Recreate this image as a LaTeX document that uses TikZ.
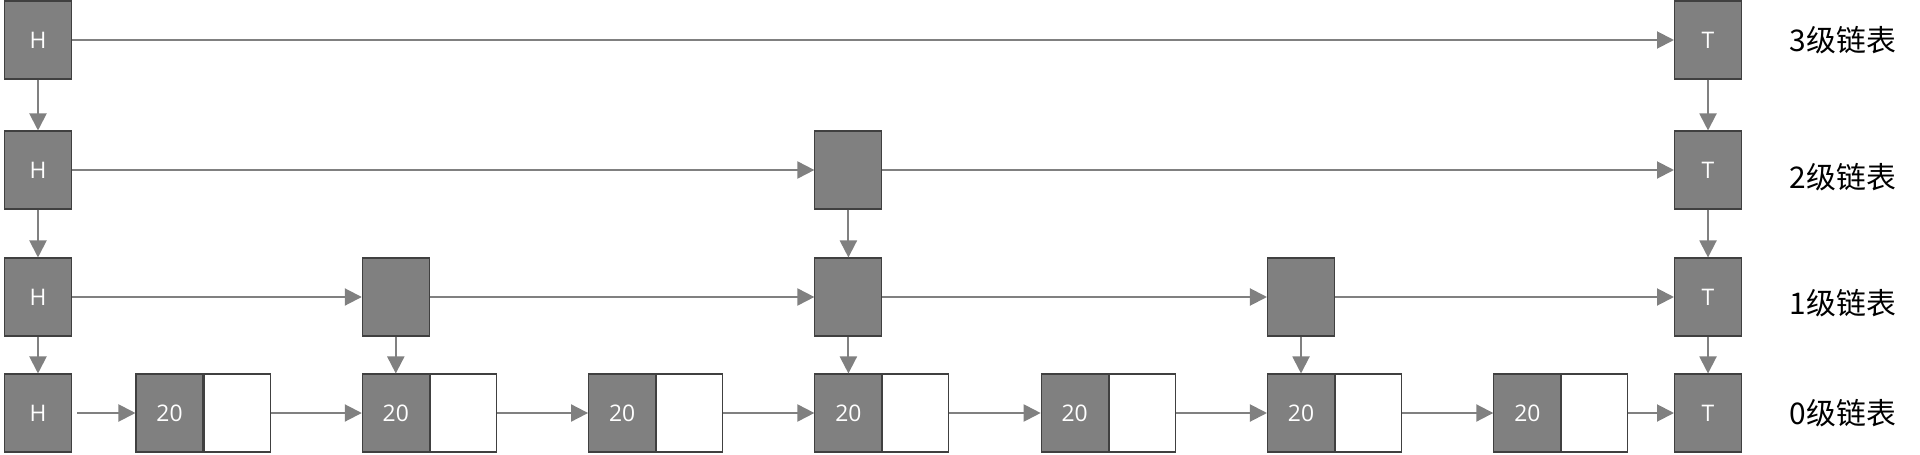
\documentclass[tikz,border=0pt]{standalone}
\usepackage{fontspec}
\setmainfont{Open Sans}
\newfontfamily\cjk{Noto Sans CJK SC}
\usetikzlibrary{positioning,arrows.meta}
\definecolor{boxgray}{HTML}{808080}
\definecolor{edgegray}{HTML}{404040}
\definecolor{linegray}{HTML}{808080}
\tikzset{
  keybox/.style={rectangle,draw=edgegray,fill=boxgray,line width=0.6pt,
    minimum width=1.34cm,minimum height=1.56cm,inner sep=0pt,text=white,
    font=\fontsize{13pt}{15pt}\selectfont},
  cellbox/.style={rectangle,draw=edgegray,fill=white,line width=0.6pt,
    minimum width=1.32cm,minimum height=1.56cm,inner sep=0pt},
  level/.style={font=\cjk\fontsize{17pt}{20pt}\selectfont,text=black},
  link/.style={draw=linegray,line width=1.13pt,
    -{Triangle[length=3.4mm,width=3.4mm]}}
}
\begin{document}
\begin{tikzpicture}[x=0.02cm,y=0.02cm]
    \useasboundingbox (0,0) rectangle (1920,454);
    % level 0: data nodes
    \foreach \i in {1,...,7} {
      \node[keybox] (d\i) at ({169.5+226.3*(\i-1)},41) {20};
      \node[cellbox,right=0pt of d\i] (w\i) {};
    }
    % head and tail columns
    \node[keybox] (h0) at (38,41) {H};
    \node[keybox] (h1) at (38,157) {H};
    \node[keybox] (h2) at (38,284) {H};
    \node[keybox] (h3) at (38,414) {H};
    \node[keybox] (t0) at (1708,41) {T};
    \node[keybox] (t1) at (1708,157) {T};
    \node[keybox] (t2) at (1708,284) {T};
    \node[keybox] (t3) at (1708,414) {T};
    % index nodes
    \node[keybox] (l1a) at (d2 |- h1) {};
    \node[keybox] (l1b) at (d4 |- h1) {};
    \node[keybox] (l1c) at (d6 |- h1) {};
    \node[keybox] (l2a) at (d4 |- h2) {};
    % level labels
    \node[level] (lab3) at (1843,414) {3级链表};
    \node[level] (lab2) at (1843,277) {2级链表};
    \node[level] (lab1) at (1843,151) {1级链表};
    \node[level] (lab0) at (1843,41) {0级链表};
    % horizontal links
    \draw[link] (h3) -- (t3);
    \draw[link] (h2) -- (l2a);
    \draw[link] (l2a) -- (t2);
    \draw[link] (h1) -- (l1a);
    \draw[link] (l1a) -- (l1b);
    \draw[link] (l1b) -- (l1c);
    \draw[link] (l1c) -- (t1);
    \draw[link,shorten <=1mm] (h0) -- (d1);
    \foreach \i [evaluate=\i as \j using int(\i+1)] in {1,...,6}
      \draw[link] (w\i) -- (d\j);
    \draw[link] (w7) -- (t0);
    % vertical links
    \draw[link] (h3) -- (h2);
    \draw[link] (h2) -- (h1);
    \draw[link] (h1) -- (h0);
    \draw[link] (t3) -- (t2);
    \draw[link] (t2) -- (t1);
    \draw[link] (t1) -- (t0);
    \draw[link] (l2a) -- (l1b);
    \draw[link] (l1a) -- (d2);
    \draw[link] (l1b) -- (d4);
    \draw[link] (l1c) -- (d6);
\end{tikzpicture}
\end{document}
